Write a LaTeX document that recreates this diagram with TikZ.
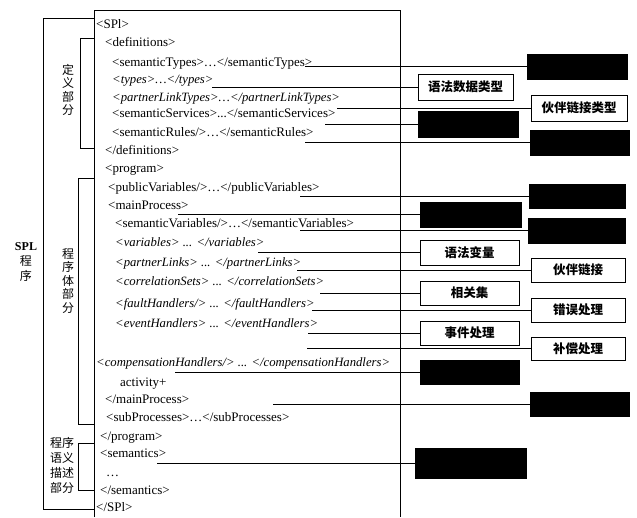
\documentclass[tikz,border=0pt]{standalone}
\usepackage{fontspec}
\setmainfont{Liberation Serif}
\newfontfamily\cjk{Noto Sans CJK SC}
\begin{document}
\begin{tikzpicture}[x=1pt,y=-1pt,
  ln/.style={line width=0.8pt},
  txt/.style={anchor=base west, inner sep=0pt, font=\fontsize{13}{15}\selectfont},
  itx/.style={anchor=base west, inner sep=0pt, font=\itshape\fontsize{12.7}{15}\selectfont},
  lab/.style={draw, line width=0.8pt, inner sep=0pt, font=\cjk\bfseries\fontsize{12.5}{14}\selectfont},
  blk/.style={draw, fill=black, line width=0.8pt, inner sep=0pt},
  side/.style={inner sep=0pt, align=center, font=\cjk\fontsize{12}{13.5}\selectfont}]
\useasboundingbox (0,0) rectangle (637,517);
% main column
\draw[ln] (94,517) -- (94,10) -- (400,10) -- (400,517);
% brackets
\draw[ln] (94,18) -- (43,18) -- (43,509) -- (94,509);
\draw[ln] (94,38) -- (80,38) -- (80,148) -- (94,148);
\draw[ln] (94,178) -- (78,178) -- (78,424) -- (94,424);
\draw[ln] (94,443) -- (78,443) -- (78,490) -- (94,490);
% side labels
\node[side] (sDef) at (68,90) {定\\义\\部\\分};
\node[side] (sBody) at (68,281) {程\\序\\体\\部\\分};
\node[side, font=\fontsize{12}{15}\selectfont] (sSpl) at (26,262) {\textbf{SPL}\\{\cjk 程}\\{\cjk 序}};
\node[side, font=\cjk\fontsize{12}{15}\selectfont] (sSem) at (62,465) {程序\\语义\\描述\\部分};
% text lines
\node[txt] (t1) at (96,28) {<SPl>};
\node[txt] (t2) at (105,46) {<definitions>};
\node[txt] (t3) at (112,66) {<semanticTypes>…</semanticTypes>};
\node[itx] (t4) at (112,83) {<types>…</types>};
\node[itx] (t5) at (112,101) {<partnerLinkTypes>…</partnerLinkTypes>};
\node[txt] (t6) at (112,117) {<semanticServices>...</semanticServices>};
\node[txt] (t7) at (112,136) {<semanticRules/>…</semanticRules>};
\node[txt] (t8) at (105,154) {</definitions>};
\node[txt] (t9) at (105,172) {<program>};
\node[txt] (t10) at (108,191) {<publicVariables/>…</publicVariables>};
\node[txt] (t11) at (108,209) {<mainProcess>};
\node[txt] (t12) at (115,227) {<semanticVariables/>…</semanticVariables>};
\node[itx] (t13) at (115,246) {<variables> ... </variables>};
\node[itx] (t14) at (115,266) {<partnerLinks> ... </partnerLinks>};
\node[itx] (t15) at (115,285) {<correlationSets> ... </correlationSets>};
\node[itx] (t16) at (115,307) {<faultHandlers/> ... </faultHandlers>};
\node[itx] (t17) at (115,327) {<eventHandlers> ... </eventHandlers>};
\node[itx] (t18) at (96,366) {<compensationHandlers/> ... </compensationHandlers>};
\node[txt] (t19) at (120,386) {activity+};
\node[txt] (t20) at (105,403) {</mainProcess>};
\node[txt] (t21) at (106,421) {<subProcesses>…</subProcesses>};
\node[txt] (t22) at (100,440) {</program>};
\node[txt] (t23) at (100,457) {<semantics>};
\node[txt] (t24) at (106,476) {…};
\node[txt] (t25) at (100,494) {</semantics>};
\node[txt] (t26) at (96,511) {</SPl>};
% boxes
\node[blk, minimum width=100, minimum height=25] (b1) at (577,66.5) {};
\node[lab, minimum width=95, minimum height=26] (l1) at (465.5,87) {语法数据类型};
\node[lab, minimum width=96, minimum height=26] (l2) at (579,108) {伙伴链接类型};
\node[blk, minimum width=100, minimum height=26] (b2) at (468,124) {};
\node[blk, minimum width=99, minimum height=25] (b3) at (579.5,142.5) {};
\node[blk, minimum width=96, minimum height=24] (b4) at (577,196) {};
\node[blk, minimum width=101, minimum height=25] (b5) at (470.5,214.5) {};
\node[blk, minimum width=97, minimum height=25] (b6) at (576.5,230.5) {};
\node[lab, minimum width=99, minimum height=25] (l3) at (469.5,252.5) {语法变量};
\node[lab, minimum width=94, minimum height=24] (l4) at (578,270) {伙伴链接};
\node[lab, minimum width=99, minimum height=24] (l5) at (469.5,293) {相关集};
\node[lab, minimum width=94, minimum height=24] (l6) at (578,310) {错误处理};
\node[lab, minimum width=99, minimum height=24] (l7) at (469.5,333) {事件处理};
\node[lab, minimum width=94, minimum height=23] (l8) at (578,348.5) {补偿处理};
\node[blk, minimum width=99, minimum height=24] (b7) at (469.5,372) {};
\node[blk, minimum width=99, minimum height=24] (b8) at (579.5,404) {};
\node[blk, minimum width=111, minimum height=30] (b9) at (470.5,463) {};
% connector start points
\coordinate (c1) at (305,66.5);
\coordinate (c2) at (212,87);
\coordinate (c3) at (337,108);
\coordinate (c4) at (325,124);
\coordinate (c5) at (305,142.5);
\coordinate (c6) at (300,196);
\coordinate (c7) at (178,214.5);
\coordinate (c8) at (300,230.5);
\coordinate (c9) at (258,252.5);
\coordinate (c10) at (297,270);
\coordinate (c11) at (320,293);
\coordinate (c12) at (312,310);
\coordinate (c13) at (308,333);
\coordinate (c14) at (307,348.5);
\coordinate (c15) at (175,372);
\coordinate (c16) at (273,404);
\coordinate (c17) at (157,463);
% connectors
\draw[ln] (c1) -- (b1.west);
\draw[ln] (c2) -- (l1.west);
\draw[ln] (c3) -- (l2.west);
\draw[ln] (c4) -- (b2.west);
\draw[ln] (c5) -- (b3.west);
\draw[ln] (c6) -- (b4.west);
\draw[ln] (c7) -- (b5.west);
\draw[ln] (c8) -- (b6.west);
\draw[ln] (c9) -- (l3.west);
\draw[ln] (c10) -- (l4.west);
\draw[ln] (c11) -- (l5.west);
\draw[ln] (c12) -- (l6.west);
\draw[ln] (c13) -- (l7.west);
\draw[ln] (c14) -- (l8.west);
\draw[ln] (c15) -- (b7.west);
\draw[ln] (c16) -- (b8.west);
\draw[ln] (c17) -- (b9.west);
\end{tikzpicture}
\end{document}
